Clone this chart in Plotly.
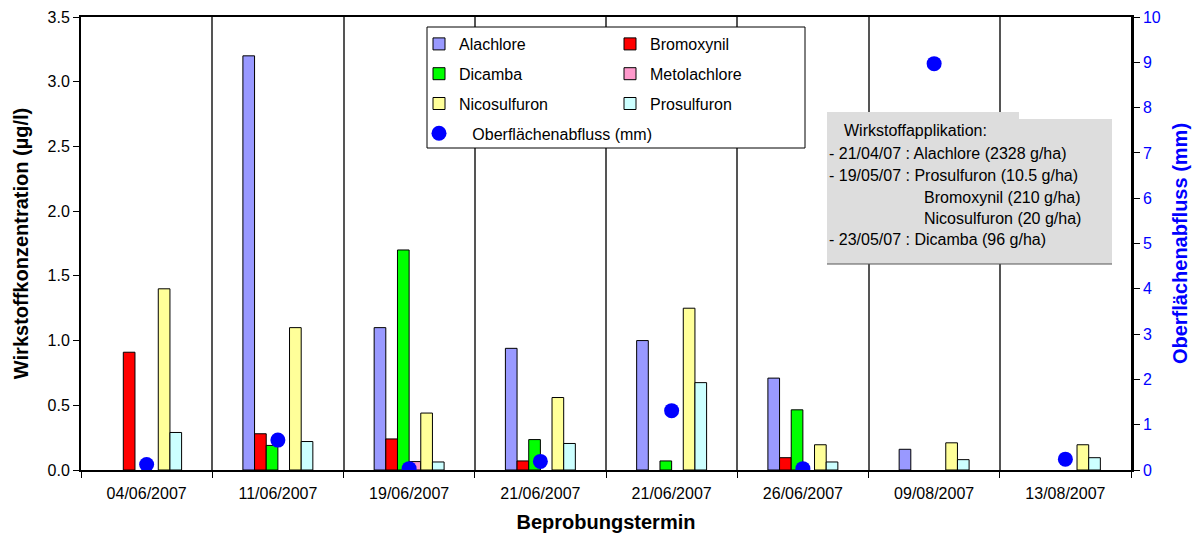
import plotly.graph_objects as go

# ---------------- data ----------------
dates = ["04/06/2007", "11/06/2007", "19/06/2007", "21/06/2007",
         "21/06/2007\u200b", "26/06/2007", "09/08/2007", "13/08/2007"]
alachlore = [None, 3.20, 1.10, 0.94, 1.00, 0.71, 0.16, None]
bromoxynil = [0.91, 0.28, 0.24, 0.07, None, 0.095, None, None]
dicamba = [None, 0.19, 1.70, 0.235, 0.07, 0.465, None, None]
metolachlore = [None, None, 0.065, None, None, None, None, None]
nicosulfuron = [1.40, 1.10, 0.44, 0.56, 1.25, 0.195, 0.21, 0.195]
prosulfuron = [0.29, 0.22, 0.062, 0.205, 0.675, 0.062, 0.08, 0.095]
abfluss = [0.12, 0.66, 0.03, 0.19, 1.31, 0.03, 8.97, 0.24]

info_title = "Wirkstoffapplikation:"
info_lines = ["- 21/04/07 : Alachlore (2328 g/ha)",
              "- 19/05/07 : Prosulfuron (10.5 g/ha)",
              "Bromoxynil (210 g/ha)",
              "Nicosulfuron (20 g/ha)",
              "- 23/05/07 : Dicamba (96 g/ha)"]

# ---------------- layout geometry (page pixels) ----------------
PAGE_W, PAGE_H = 1201, 538
OFF = 8  # default body margin of the html page
W, H = PAGE_W - OFF, PAGE_H - OFF
L, R, T, B = 81, 1131, 17, 470


def px(x):
    return (x - L) / (R - L)


def py(y):
    return (B - y) / (B - T)


FONT = "Liberation Sans, Arial, sans-serif"

series = [
    ("Alachlore", alachlore, "#9999FF", "legend"),
    ("Bromoxynil", bromoxynil, "#FF0000", "legend2"),
    ("Dicamba", dicamba, "#00FF00", "legend"),
    ("Metolachlore", metolachlore, "#FF99CC", "legend2"),
    ("Nicosulfuron", nicosulfuron, "#FFFF99", "legend"),
    ("Prosulfuron", prosulfuron, "#CCFFFF", "legend2"),
]

fig = go.Figure()
for name, vals, col, leg in series:
    fig.add_trace(go.Bar(
        x=dates, y=vals, name=name, legend=leg, legendgroup=name,
        marker=dict(color=col, line=dict(color="#000000", width=1)),
    ))

fig.add_trace(go.Scatter(
    x=dates, y=abfluss, yaxis="y2", mode="markers",
    name="\u00a0\u00a0\u00a0Oberflächenabfluss (mm)", legend="legend",
    legendgroup="abfluss",
    marker=dict(color="#0000FF", size=15),
))

shapes = [
    # legend frame
    dict(type="rect", xref="paper", yref="paper",
         x0=px(427), x1=px(805), y0=py(148), y1=py(27),
         fillcolor="white", line=dict(color="black", width=1), layer="above"),
    # grey info box
    dict(type="rect", xref="paper", yref="paper",
         x0=px(827), x1=px(1112), y0=py(264), y1=py(119),
         fillcolor="#DDDDDD", line=dict(width=0), layer="above"),
    dict(type="rect", xref="paper", yref="paper",
         x0=px(827), x1=px(1019), y0=py(120), y1=py(112),
         fillcolor="#DDDDDD", line=dict(width=0), layer="above"),
    dict(type="line", xref="paper", yref="paper",
         x0=px(827), x1=px(1112), y0=py(264), y1=py(264),
         line=dict(color="#555555", width=1), layer="above"),
]

annotations = [dict(text=info_title, x=px(842), y=py(131))]
ys = [153, 175, 197, 219, 240]
xs = [827, 827, 922, 922, 827]
for t, xx, yy in zip(info_lines, xs, ys):
    annotations.append(dict(text=t, x=px(xx), y=py(yy)))
for a in annotations:
    a.update(xref="paper", yref="paper", xanchor="left", yanchor="middle",
             showarrow=False, font=dict(family=FONT, size=16, color="black"))

fig.update_layout(
    width=W, height=H,
    margin=dict(l=L - OFF, r=PAGE_W - R, t=T - OFF, b=PAGE_H - B,
                autoexpand=False),
    plot_bgcolor="white", paper_bgcolor="white",
    font=dict(family=FONT, size=16, color="black"),
    barmode="group", bargap=0.467, bargroupgap=0,
    shapes=shapes, annotations=annotations,
    legend=dict(x=px(419), y=py(27), xanchor="left", yanchor="top",
                bgcolor="rgba(0,0,0,0)", borderwidth=0,
                traceorder="grouped", tracegroupgap=6,
                font=dict(family=FONT, size=16, color="black")),
    legend2=dict(x=px(610), y=py(27), xanchor="left", yanchor="top",
                 bgcolor="rgba(0,0,0,0)", borderwidth=0,
                 traceorder="grouped", tracegroupgap=6,
                 font=dict(family=FONT, size=16, color="black")),
    xaxis=dict(
        type="category", tickson="boundaries",
        showgrid=True, gridcolor="#555555", gridwidth=2,
        ticks="outside", ticklen=6, tickcolor="black", tickwidth=1,
        showline=True, linecolor="black", linewidth=2, mirror=True,
        tickfont=dict(family=FONT, size=16, color="black"),
        ticklabelstandoff=8,
        title=dict(text="<b>Beprobungstermin</b>", standoff=14,
                   font=dict(family=FONT, size=20, color="black")),
        automargin=False,
    ),
    yaxis=dict(
        range=[0, 3.5], dtick=0.5, tickformat=".1f",
        showgrid=False, zeroline=False,
        showline=True, linecolor="black", linewidth=2,
        ticks="outside", ticklen=6, tickcolor="black",
        tickfont=dict(family=FONT, size=16, color="black"),
        title=dict(text="<b>Wirkstoffkonzentration (µg/l)</b>", standoff=14,
                   font=dict(family=FONT, size=20, color="black")),
        automargin=False,
    ),
    yaxis2=dict(
        overlaying="y", side="right",
        range=[0, 10], dtick=1,
        showgrid=False, zeroline=False,
        showline=True, linecolor="black", linewidth=2.5,
        ticks="outside", ticklen=6, tickcolor="black",
        tickfont=dict(family=FONT, size=16, color="#0000FF"),
        title=dict(text="<b>Oberflächenabfluss (mm)</b>", standoff=14,
                   font=dict(family=FONT, size=20, color="#0000FF")),
        automargin=False,
    ),
)

fig.write_html("out.html")
